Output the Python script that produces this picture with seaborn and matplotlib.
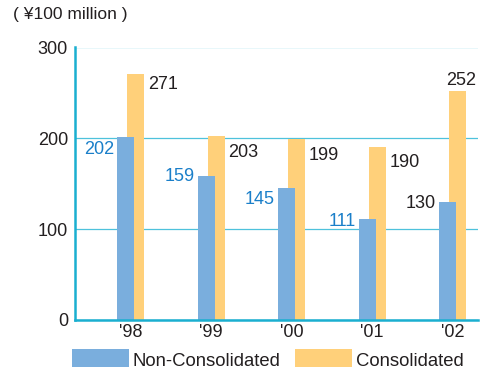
import numpy as np
import matplotlib
matplotlib.use("Agg")
import matplotlib.pyplot as plt
import seaborn as sns
from matplotlib.patches import Rectangle

# ---- data ----
years = ["'98", "'99", "'00", "'01", "'02"]
non_consolidated = [202, 159, 145, 111, 130]
consolidated = [271, 203, 199, 190, 252]
yticks = [0, 100, 200, 300]
unit_label = "( ¥100 million )"
series_names = ["Non-Consolidated", "Consolidated"]

# ---- layout / style ----
nc_label_y = [183, 153.3, 127.6, 103.7, 123.2]   # baseline of value labels
c_label_y = [254.4, 179.8, 176.5, 168.4, 259.2]
c_label_above = [False, False, False, False, True]
BLUE = "#7AAEDD"
ORANGE = "#FFD07A"
LABEL_BLUE = "#1A7FC9"
DARK = "#231F20"
GRID = "#4EC2DC"
SPINE = "#1AAFD0"
nc_label_colors = [LABEL_BLUE, LABEL_BLUE, LABEL_BLUE, LABEL_BLUE, DARK]

sns.set_style("white")
plt.rcParams['font.family'] = ['Liberation Sans', 'DejaVu Sans']

W, H = 491, 371
fig = plt.figure(figsize=(W / 100, H / 100), dpi=100)
ax = fig.add_axes([75 / W, 51 / H, 403 / W, 272.5 / H])

step = 80.5
off = 5 / step
bw = 17 / step
x = np.arange(len(years))

sns.barplot(x=x + off, y=consolidated, native_scale=True, width=bw, color=ORANGE,
            saturation=1, linewidth=0, errorbar=None, ax=ax)
sns.barplot(x=x - off, y=non_consolidated, native_scale=True, width=bw, color=BLUE,
            saturation=1, linewidth=0, errorbar=None, ax=ax)

ax.set_xlim((75 - 130.5) / step, (478 - 130.5) / step)
ax.set_ylim(0, 300)
ax.set_xticks(x)
ax.set_xticklabels(years)
ax.set_yticks(yticks)
ax.set_xlabel("")
ax.set_ylabel("")
ax.tick_params(axis='both', length=0, labelsize=13, colors=DARK)
ax.tick_params(axis='y', pad=5)
ax.tick_params(axis='x', pad=3)

ax.set_axisbelow(True)
ax.yaxis.grid(True, color=GRID, linewidth=0.9)
ax.xaxis.grid(False)
for s in ['top', 'right']:
    ax.spines[s].set_visible(False)
for s in ['left', 'bottom']:
    ax.spines[s].set_color(SPINE)
    ax.spines[s].set_linewidth(1.8)

fs = 13
for i in range(len(years)):
    ax.text(i - off - bw / 2 - 3 / step, nc_label_y[i], str(non_consolidated[i]),
            ha='right', va='baseline', fontsize=fs, color=nc_label_colors[i])
    if c_label_above[i]:
        ax.text(i + off + 4 / step, c_label_y[i], str(consolidated[i]),
                ha='center', va='baseline', fontsize=fs, color=DARK)
    else:
        ax.text(i + off + bw / 2 + 4 / step, c_label_y[i], str(consolidated[i]),
                ha='left', va='baseline', fontsize=fs, color=DARK)

# unit label
fig.text(13 / W, (H - 19.5) / H, unit_label, fontsize=12.5, color=DARK,
         ha='left', va='baseline')

# legend
for (x0, x1, tx), col, name in zip([(72, 129, 133), (295, 352, 356)], [BLUE, ORANGE], series_names):
    fig.patches.append(Rectangle((x0 / W, (H - 367) / H), (x1 - x0) / W, 18 / H,
                                 transform=fig.transFigure, facecolor=col, edgecolor='none'))
    fig.text(tx / W, (H - 366) / H, name, fontsize=13.3, color=DARK, ha='left', va='baseline')

fig.savefig("out.png", dpi=100)
